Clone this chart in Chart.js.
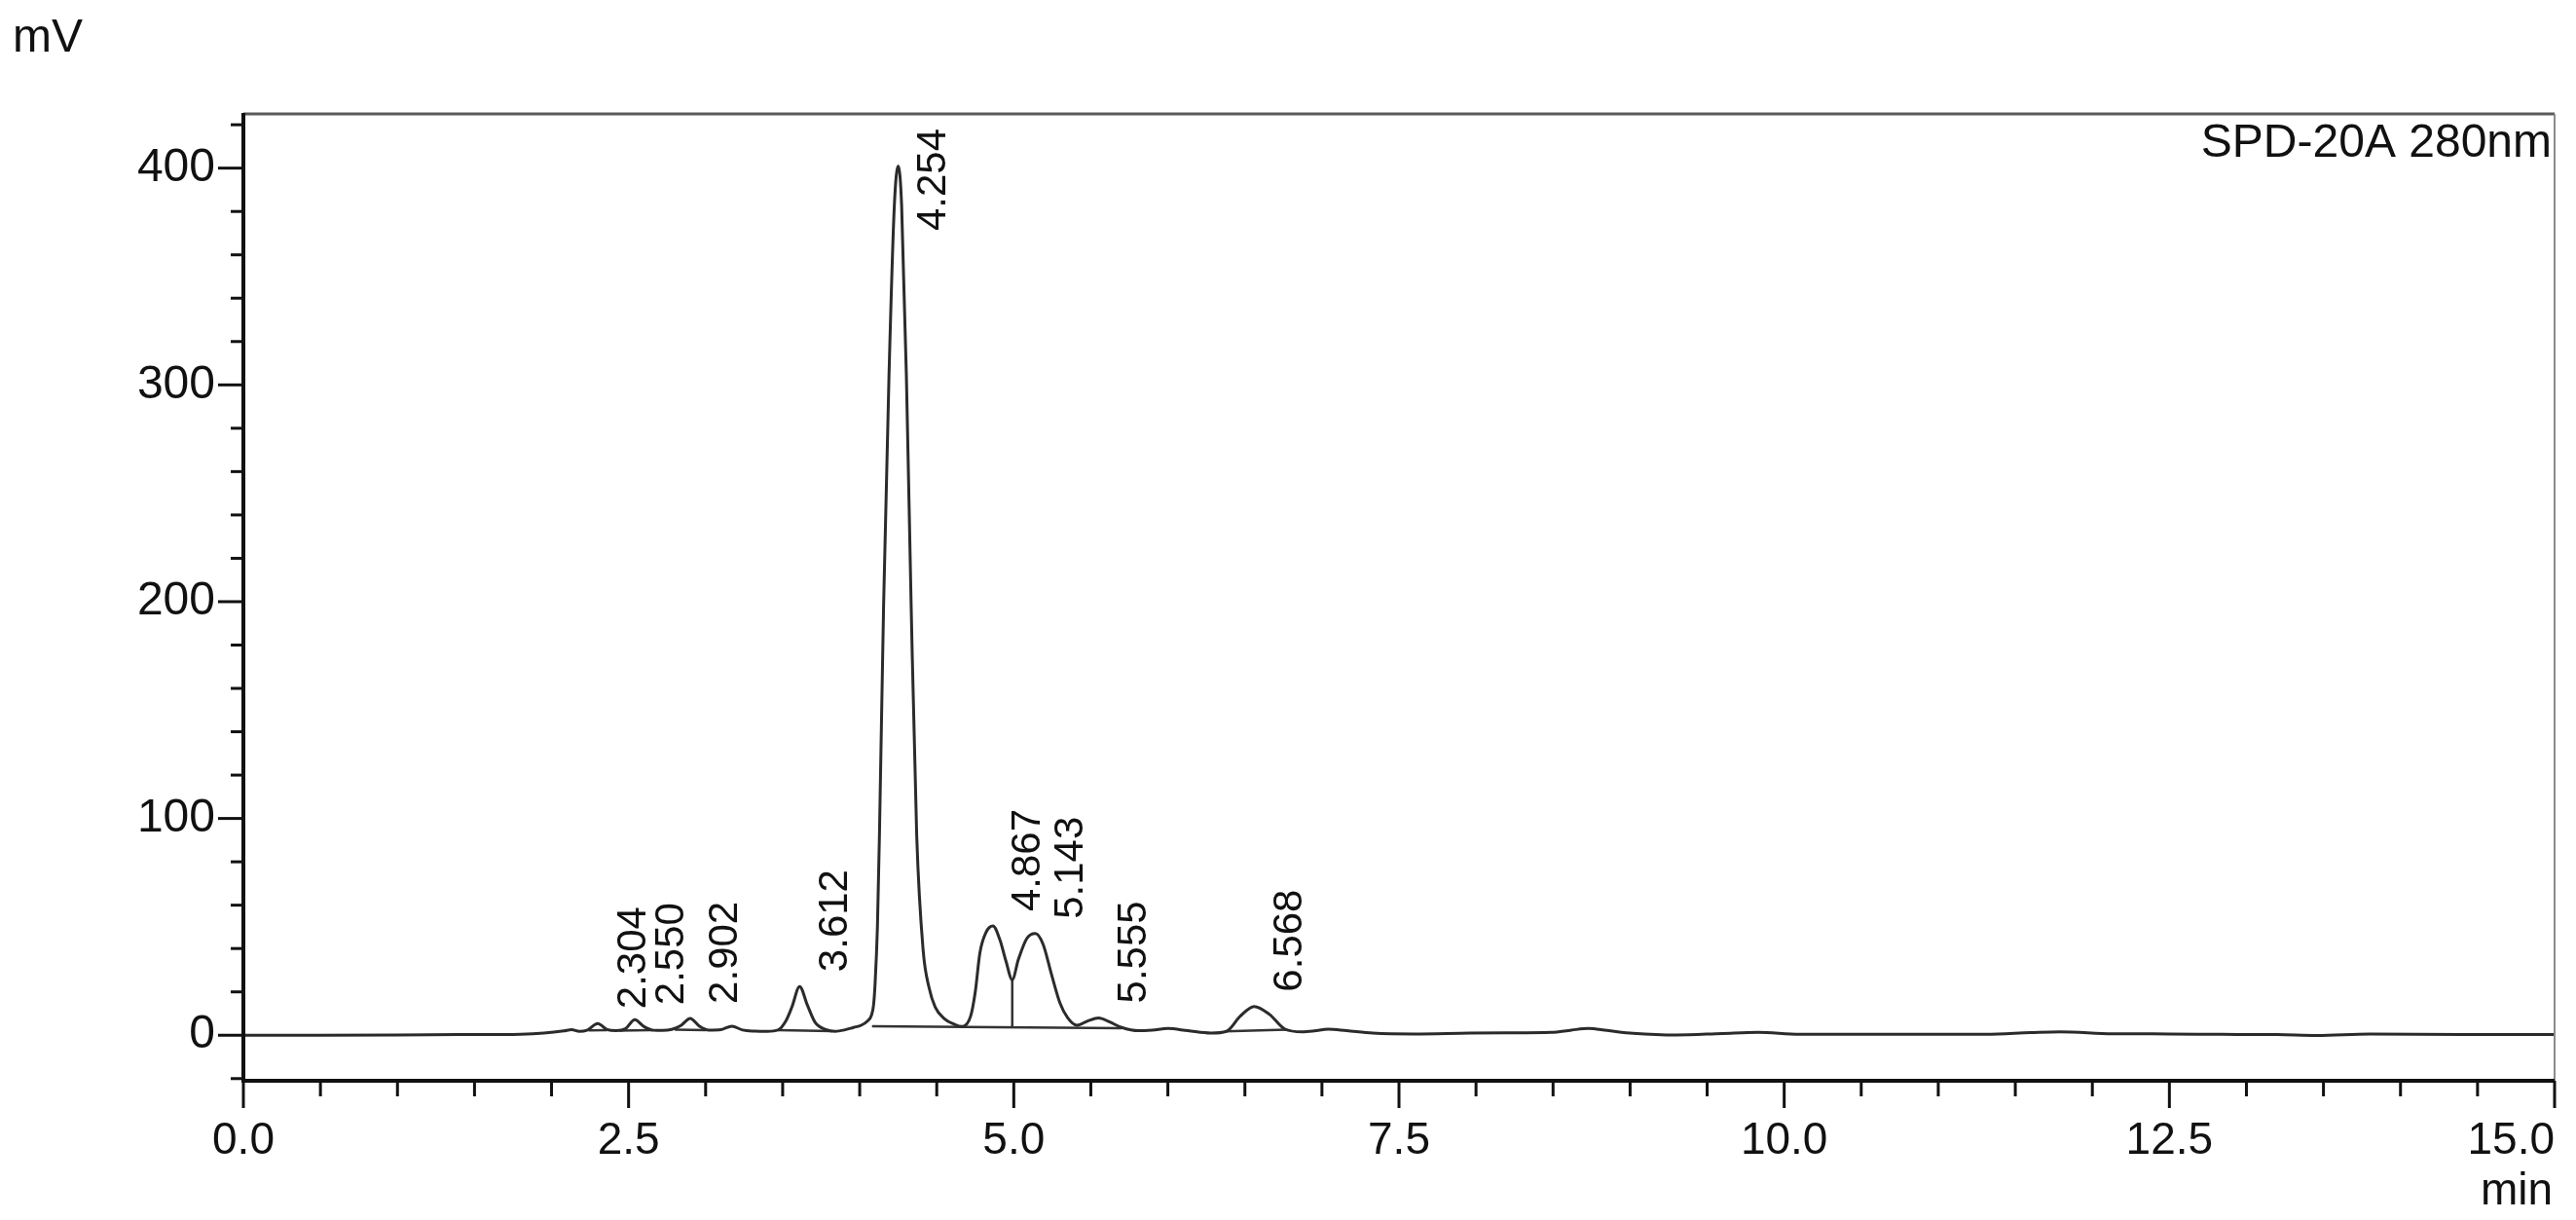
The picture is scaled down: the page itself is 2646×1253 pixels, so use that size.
<!DOCTYPE html>
<html>
<head>
<meta charset="utf-8">
<title>SPD-20A 280nm</title>
<script src="https://cdn.jsdelivr.net/npm/chart.js@4.4.1/dist/chart.umd.min.js"></script>
<style>
  html, body { margin: 0; padding: 0; background: #fff; }
  canvas { display: block; }
</style>
</head>
<body>
<canvas id="chrom" width="2646" height="1253"></canvas>
<script>
// Trace: time (min) and detector signal (mV)
const times = [
  0, 0.5, 1.0, 1.4, 1.8, 1.95, 2.08, 2.13, 2.18, 2.23, 2.30, 2.36, 2.42, 2.48, 2.54,
  2.60, 2.66, 2.72, 2.78, 2.84, 2.90, 2.96, 3.02, 3.10, 3.17, 3.24, 3.32, 3.40, 3.47,
  3.52, 3.56, 3.61, 3.66, 3.71, 3.78, 3.84, 3.90, 3.96, 4.01, 4.05, 4.075, 4.09, 4.10,
  4.115, 4.128, 4.155, 4.19, 4.225, 4.25, 4.272, 4.303, 4.334, 4.37, 4.412, 4.45, 4.49,
  4.55, 4.61, 4.665, 4.72, 4.75, 4.78, 4.82, 4.865, 4.91, 4.95, 4.99, 5.03, 5.085, 5.14,
  5.19, 5.245, 5.30, 5.35, 5.41, 5.48, 5.55, 5.62, 5.70, 5.81, 5.90, 6.00, 6.13, 6.28,
  6.38, 6.47, 6.56, 6.66, 6.76, 6.87, 6.95, 7.04, 7.16, 7.33, 7.60, 7.96, 8.20, 8.49,
  8.62, 8.73, 8.85, 9.02, 9.30, 9.60, 9.83, 10.10, 10.60, 11.31, 11.60, 11.79, 12.13,
  12.50, 12.84, 13.20, 13.46, 13.80, 14.40, 15.0
];
const signal = [
  0, 0, 0.1, 0.3, 0.5, 1.0, 2.0, 2.6, 1.8, 2.3, 5.4, 2.6, 2.1, 3.0, 7.2,
  4.0, 2.3, 2.2, 2.7, 4.5, 7.8, 4.2, 2.4, 2.6, 4.2, 2.4, 1.9, 1.8, 2.4,
  6.5, 13, 22.5, 14, 6, 2.6, 1.8, 2.4, 3.6, 4.6, 6.5, 9.0, 14, 24,
  50, 92, 198, 304, 383, 401, 383, 304, 198, 92, 39, 22, 13,
  7.6, 5.2, 4.0, 8.8, 20, 38, 47.5, 50.4, 44, 34, 25.6, 35, 44.7, 46.9,
  42, 28, 14.8, 8, 4.6, 6.6, 8, 6.2, 3.6, 2.1, 2.4, 3.1, 2.1, 1.0,
  1.8, 8.8, 13.3, 9.6, 2.8, 1.6, 2.0, 2.8, 2.1, 1.0, 0.6, 1.0, 1.1, 1.3,
  2.4, 3.1, 2.2, 0.9, 0.1, 0.8, 1.3, 0.4, 0.4, 0.4, 1.2, 1.6, 0.7,
  0.6, 0.4, 0.3, -0.1, 0.6, 0.3, 0.3
];

// Integrated peaks: retention time (min) and apex height (mV)
const peakTimes = [2.304, 2.550, 2.902, 3.612, 4.254, 4.867, 5.143, 5.555, 6.568];
const peakHeights = [5.4, 7.2, 7.8, 22.5, 401, 50.4, 46.9, 8.0, 13.3];

// Integration baselines (start/end time and level) and the drop line at the valley
const baseStart = [2.24, 2.44, 2.80, 3.47, 4.08, 6.37];
const baseEnd = [2.36, 2.64, 3.00, 3.82, 5.70, 6.77];
const baseStartMv = [2.2, 2.1, 2.6, 2.3, 4.2, 1.8];
const baseEndMv = [2.3, 2.3, 2.4, 1.9, 3.2, 2.6];
const dropTime = 4.99;
const dropTopMv = 25.6;
const dropBottomMv = 3.7;

// Labelled ticks
const xTicks = [0, 2.5, 5.0, 7.5, 10.0, 12.5, 15.0];
const yTicks = [0, 100, 200, 300, 400];

const FONT = "'Liberation Sans', Arial, Helvetica, sans-serif";

const traceData = times.map((t, i) => ({ x: t, y: signal[i] }));

const baseData = [];
baseStart.forEach((t, i) => {
  baseData.push({ x: t, y: baseStartMv[i] });
  baseData.push({ x: baseEnd[i], y: baseEndMv[i] });
  baseData.push({ x: baseEnd[i], y: null });
});
baseData.push({ x: dropTime, y: dropTopMv });
baseData.push({ x: dropTime, y: dropBottomMv });

function isOn(v, list) {
  return list.some(t => Math.abs(t - v) < 1e-6);
}

// axes frame, tick marks, tick labels and peak annotations
const chromDecor = {
  id: 'chromDecor',
  afterDraw(chart) {
    const { ctx, chartArea: a } = chart;
    const x = chart.scales.x, y = chart.scales.y;
    ctx.save();

    // grey top / right frame
    ctx.strokeStyle = '#5a5a5a';
    ctx.lineWidth = 3;
    ctx.beginPath(); ctx.moveTo(a.left, a.top); ctx.lineTo(a.right, a.top); ctx.stroke();
    ctx.strokeStyle = '#8c8c8c';
    ctx.lineWidth = 2;
    ctx.beginPath(); ctx.moveTo(a.right, a.top); ctx.lineTo(a.right, a.bottom); ctx.stroke();

    // black axes
    ctx.strokeStyle = '#111';
    ctx.lineWidth = 4;
    ctx.beginPath();
    ctx.moveTo(a.left, a.top - 1);
    ctx.lineTo(a.left, a.bottom);
    ctx.lineTo(a.right, a.bottom);
    ctx.stroke();

    // tick marks
    ctx.lineWidth = 3;
    y.ticks.forEach(t => {
      const py = y.getPixelForValue(t.value);
      const len = isOn(t.value, yTicks) ? 26 : 13;
      ctx.beginPath(); ctx.moveTo(a.left - len, py); ctx.lineTo(a.left, py); ctx.stroke();
    });
    x.ticks.forEach(t => {
      const px = x.getPixelForValue(t.value);
      const len = isOn(t.value, xTicks) ? 28 : 16;
      ctx.beginPath(); ctx.moveTo(px, a.bottom); ctx.lineTo(px, a.bottom + len); ctx.stroke();
    });

    // tick labels
    ctx.fillStyle = '#111';
    ctx.font = '48px ' + FONT;
    ctx.textAlign = 'right';
    ctx.textBaseline = 'middle';
    yTicks.forEach(v => ctx.fillText(String(v), a.left - 29, y.getPixelForValue(v)));

    ctx.font = '46px ' + FONT;
    ctx.textAlign = 'center';
    ctx.textBaseline = 'alphabetic';
    xTicks.forEach(v => {
      const s = v.toFixed(1);
      const w = ctx.measureText(s).width;
      const px = Math.min(x.getPixelForValue(v), a.right - w / 2);
      ctx.fillText(s, px, a.bottom + 75);
    });

    // unit labels and detector name
    ctx.font = '48px ' + FONT;
    ctx.textAlign = 'left';
    ctx.fillText('mV', 13, 53);
    ctx.font = '46px ' + FONT;
    ctx.textAlign = 'right';
    ctx.fillText('min', a.right - 2, 1237);
    ctx.font = '48px ' + FONT;
    ctx.fillText('SPD-20A 280nm', a.right - 3, a.top + 44);

    // retention times, written upward beside each apex
    ctx.font = '42px ' + FONT;
    ctx.textAlign = 'left';
    peakTimes.forEach((t, i) => {
      const s = t.toFixed(3);
      const w = ctx.measureText(s).width;
      const px = x.getPixelForValue(t);
      let start = y.getPixelForValue(peakHeights[i]) - 15;
      if (start - w < a.top + 15) start = a.top + 15 + w;
      ctx.save();
      ctx.translate(px + 48, start);
      ctx.rotate(-Math.PI / 2);
      ctx.fillText(s, 0, 0);
      ctx.restore();
    });

    ctx.restore();
  }
};

new Chart(document.getElementById('chrom'), {
  type: 'scatter',
  data: {
    datasets: [
      {
        label: 'SPD-20A 280nm',
        data: traceData,
        showLine: true,
        borderColor: '#2b2b2b',
        borderWidth: 3,
        pointRadius: 0,
        cubicInterpolationMode: 'monotone'
      },
      {
        label: 'baseline',
        data: baseData,
        showLine: true,
        spanGaps: false,
        borderColor: '#333',
        borderWidth: 2.5,
        pointRadius: 0
      }
    ]
  },
  options: {
    responsive: false,
    animation: false,
    devicePixelRatio: 1,
    events: [],
    layout: { padding: { top: 117, right: 22, left: 0, bottom: 0 } },
    plugins: { legend: { display: false }, tooltip: { enabled: false } },
    scales: {
      x: {
        type: 'linear',
        min: 0,
        max: 15,
        ticks: { stepSize: 0.5, display: false },
        grid: { display: false },
        border: { display: false },
        afterFit(s) { s.height = 143; }
      },
      y: {
        type: 'linear',
        min: -21,
        max: 425,
        ticks: { stepSize: 20, display: false, includeBounds: false },
        grid: { display: false },
        border: { display: false },
        afterFit(s) { s.width = 250; }
      }
    }
  },
  plugins: [chromDecor]
});
</script>
</body>
</html>
